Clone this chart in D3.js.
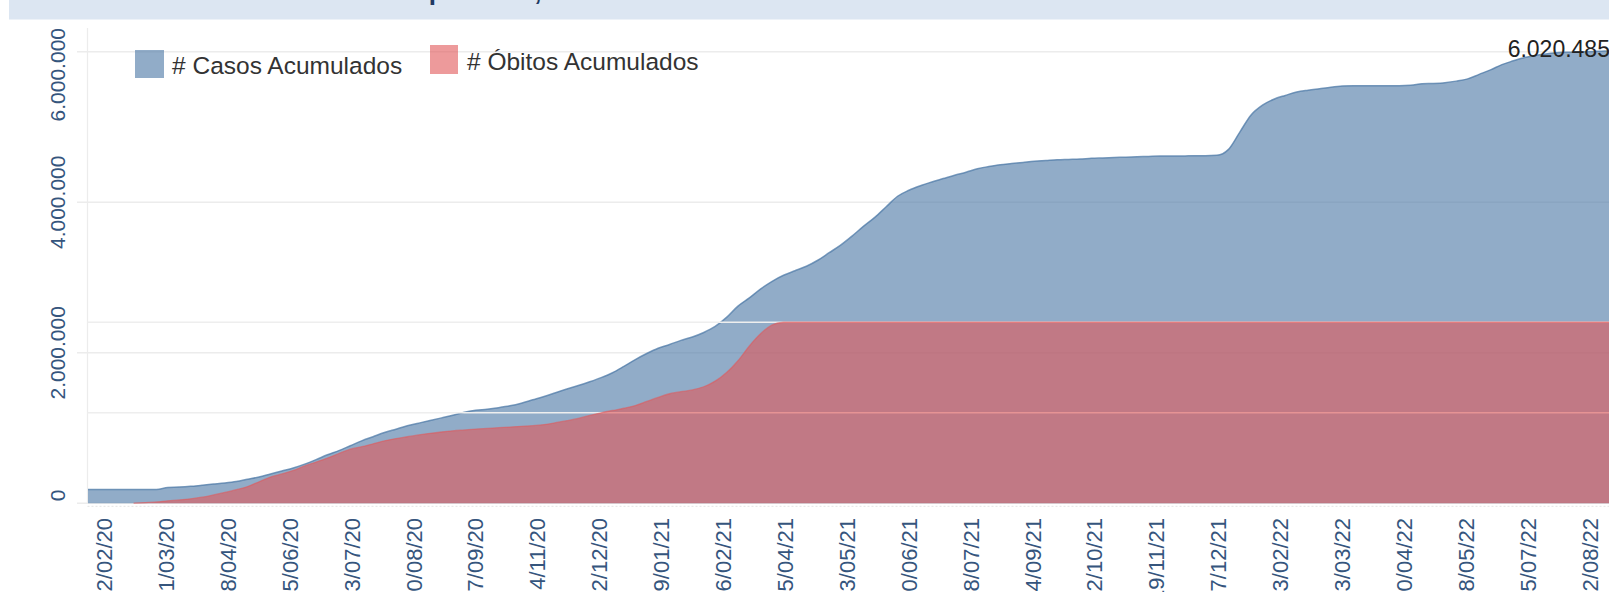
<!DOCTYPE html>
<html lang="pt-BR">
<head>
<meta charset="utf-8">
<title>Casos e Óbitos Acumulados</title>
<script src="https://cdn.jsdelivr.net/npm/d3@7"></script>
<style>
  html, body { margin: 0; padding: 0; background: #fff; overflow: hidden; }
  svg { display: block; font-family: "Liberation Sans", Arial, sans-serif; }
</style>
</head>
<body>
<svg id="chart" width="1609" height="596"></svg>
<script>
// ========================================
// Dados semanais (semana epidemiológica, início em domingo)
// ========================================
const inicioSemanas = "02/02/20";

const casos2020 = [
  184000, 184000, 184000, 184000, 184000, 184000, 184000, 210000, 215000, 225000,
  240000, 255000, 270000, 290000, 320000, 350000, 390000, 430000, 470000, 520000,
  580000, 645000, 700000, 765000, 830000, 885000, 940000, 985000, 1030000, 1065000,
  1100000, 1135000, 1170000, 1210000, 1235000, 1250000, 1270000, 1295000, 1330000, 1375000,
  1420000, 1470000, 1520000, 1565000, 1615000, 1670000, 1735000, 1820000
];
const casos2021 = [
  1910000, 1990000, 2060000, 2110000, 2165000, 2210000, 2270000, 2350000, 2470000, 2620000,
  2730000, 2850000, 2950000, 3030000, 3090000, 3150000, 3230000, 3330000, 3430000, 3550000,
  3680000, 3800000, 3940000, 4080000, 4160000, 4220000, 4270000, 4315000, 4360000, 4400000,
  4445000, 4475000, 4500000, 4515000, 4530000, 4545000, 4555000, 4565000, 4570000, 4575000,
  4585000, 4590000, 4595000, 4600000, 4605000, 4610000, 4615000, 4615000, 4615000, 4620000,
  4620000, 4625000
];
const casos2022 = [
  4700000, 4930000, 5160000, 5290000, 5370000, 5420000, 5465000, 5490000, 5510000, 5530000,
  5545000, 5550000, 5550000, 5550000, 5550000, 5550000, 5555000, 5575000, 5580000, 5590000,
  5610000, 5640000, 5700000, 5760000, 5830000, 5880000, 5925000, 5955000, 5975000, 5990000,
  5995000, 6000000, 6005000, 6010000, 6020485
];

const obitos2020 = [
  null, null, null, null, 100, 300, 600, 1100, 1500, 2000,
  2700, 3700, 4800, 6000, 7400, 9500, 11600, 13000, 14500, 16500,
  18200, 20000, 22000, 23900, 25000, 26300, 27600, 28600, 29400, 30200,
  30900, 31500, 32000, 32400, 32800, 33100, 33400, 33700, 34000, 34300,
  34800, 35600, 36500, 37500, 38800, 40000, 41000, 42000
];
const obitos2021 = [
  43200, 45000, 46800, 48400, 49300, 50100, 51500, 54000, 57800, 63000,
  69500, 75000, 78800, 80000, 80000, 80000, 80000, 80000, 80000, 80000,
  80000, 80000, 80000, 80000, 80000, 80000, 80000, 80000, 80000, 80000,
  80000, 80000, 80000, 80000, 80000, 80000, 80000, 80000, 80000, 80000,
  80000, 80000, 80000, 80000, 80000, 80000, 80000, 80000, 80000, 80000,
  80000, 80000
];
const obitos2022 = [
  80000, 80000, 80000, 80000, 80000, 80000, 80000, 80000, 80000, 80000,
  80000, 80000, 80000, 80000, 80000, 80000, 80000, 80000, 80000, 80000,
  80000, 80000, 80000, 80000, 80000, 80000, 80000, 80000, 80000, 80000,
  80000, 80000, 80000, 80000, 80000
];

const xTickLabels = [
  "12/02/20", "21/03/20", "28/04/20", "05/06/20", "13/07/20", "20/08/20", "27/09/20",
  "04/11/20", "12/12/20", "19/01/21", "26/02/21", "05/04/21", "13/05/21", "20/06/21",
  "28/07/21", "04/09/21", "12/10/21", "19/11/21", "27/12/21", "03/02/22", "13/03/22",
  "20/04/22", "28/05/22", "05/07/22", "12/08/22"
];
const yTicks = [0, 2000000, 4000000, 6000000];
const obitosGrid = [40000, 80000];
const legenda = ["# Casos Acumulados", "# Óbitos Acumulados"];
const titulo = "Casos e Óbitos Acumulados por Data, Estado de São Paulo";

// ========================================
// Gráfico
// ========================================
const ChartManager = (() => {
  const W = 1609, H = 596;
  const plot = { left: 87.5, top: 28, bottom: 503.3 };
  const azul = '#4e79a7', vermelho = '#e15759';
  const grade = '#ececec';

  const parse = d3.timeParse('%d/%m/%y');
  const fmtData = d3.timeFormat('%-d/%m/%y');
  const fmtNum = d3.formatLocale({ decimal: ',', thousands: '.', grouping: [3], currency: ['R$', ''] }).format(',');

  function init() {
    const casos = casos2020.concat(casos2021, casos2022);
    const obitos = obitos2020.concat(obitos2021, obitos2022);
    const inicio = parse(inicioSemanas);
    const dados = casos.map((c, i) => ({ date: d3.timeWeek.offset(inicio, i), casos: c, obitos: obitos[i] }));
    render(dados);
  }

  function render(dados) {
    const svg = d3.select('#chart');
    svg.selectAll('*').remove();

    const ticks = xTickLabels.map(parse);
    const x = d3.scaleTime()
      .domain([ticks[0], ticks[ticks.length - 1]])
      .range([104.3, 1589.9]);
    const yC = d3.scaleLinear().domain([0, 6316000]).range([plot.bottom, plot.top]);
    const yO = d3.scaleLinear().domain([0, 210000]).range([plot.bottom, plot.top]);
    const curva = d3.curveMonotoneX;

    // faixa do título (cortada no topo)
    svg.append('rect')
      .attr('x', 9).attr('y', 0).attr('width', W - 9).attr('height', 19.5)
      .attr('fill', '#dce6f2');
    svg.append('text')
      .attr('x', 70).attr('y', 0)
      .attr('font-size', 26).attr('font-weight', 'bold')
      .attr('fill', '#1f3a63')
      .text(titulo);

    // grade do eixo principal
    const g = svg.append('g');
    g.append('line')
      .attr('x1', plot.left).attr('x2', plot.left)
      .attr('y1', plot.top).attr('y2', plot.bottom)
      .attr('stroke', grade).attr('stroke-width', 1.2);
    g.selectAll('line.grid')
      .data(yTicks)
      .join('line')
      .attr('class', 'grid')
      .attr('x1', 77).attr('x2', W)
      .attr('y1', d => yC(d)).attr('y2', d => yC(d))
      .attr('stroke', grade).attr('stroke-width', 1.6);
    g.append('line')
      .attr('x1', plot.left).attr('x2', W)
      .attr('y1', plot.bottom + 3).attr('y2', plot.bottom + 3)
      .attr('stroke', '#e9e9e9').attr('stroke-width', 1.2)
      .attr('stroke-dasharray', '2,2');

    // área de casos
    const areaCasos = d3.area()
      .curve(curva)
      .x(d => x(d.date))
      .y0(yC(0))
      .y1(d => yC(d.casos));
    const linhaCasos = d3.line()
      .curve(curva)
      .x(d => x(d.date))
      .y(d => yC(d.casos));

    svg.append('path')
      .datum(dados)
      .attr('d', areaCasos)
      .attr('fill', azul).attr('fill-opacity', 0.62);
    svg.append('path')
      .datum(dados)
      .attr('d', linhaCasos)
      .attr('fill', 'none')
      .attr('stroke', azul).attr('stroke-opacity', 0.75).attr('stroke-width', 1.5);

    // grade do eixo secundário (óbitos), por cima da área azul
    svg.append('g')
      .selectAll('line')
      .data(obitosGrid)
      .join('line')
      .attr('x1', plot.left).attr('x2', W)
      .attr('y1', d => yO(d)).attr('y2', d => yO(d))
      .attr('stroke', '#eeeeee').attr('stroke-width', 1.6);

    // área de óbitos
    const comObito = d => d.obitos != null;
    const areaObitos = d3.area()
      .defined(comObito)
      .curve(curva)
      .x(d => x(d.date))
      .y0(yO(0))
      .y1(d => yO(d.obitos));
    const linhaObitos = d3.line()
      .defined(comObito)
      .curve(curva)
      .x(d => x(d.date))
      .y(d => yO(d.obitos));

    svg.append('path')
      .datum(dados)
      .attr('d', areaObitos)
      .attr('fill', vermelho).attr('fill-opacity', 0.6);
    svg.append('path')
      .datum(dados)
      .attr('d', linhaObitos)
      .attr('fill', 'none')
      .attr('stroke', vermelho).attr('stroke-opacity', 0.55).attr('stroke-width', 1.3);

    // eixo Y (rótulos girados, mantidos dentro da área)
    const yLab = svg.append('g')
      .attr('font-size', 21).attr('fill', '#35557d');
    yLab.selectAll('text')
      .data(yTicks)
      .join('text')
      .attr('text-anchor', 'middle')
      .text(d => fmtNum(d))
      .attr('transform', function (d) {
        const half = this.getComputedTextLength() / 2;
        const cy = Math.max(plot.top + half, Math.min(plot.bottom - 2 - half, yC(d)));
        return `translate(65,${cy}) rotate(-90)`;
      });

    // eixo X (datas giradas, cortadas embaixo)
    svg.append('clipPath').attr('id', 'clipX')
      .append('rect').attr('x', 0).attr('y', 505).attr('width', W).attr('height', 87);
    svg.append('g')
      .attr('clip-path', 'url(#clipX)')
      .attr('font-size', 22).attr('fill', '#35557d')
      .selectAll('text')
      .data(ticks)
      .join('text')
      .attr('text-anchor', 'end')
      .attr('dy', '0.35em')
      .attr('transform', d => `translate(${x(d)},518) rotate(-90)`)
      .text(d => fmtData(d));

    // legenda
    const leg = svg.append('g').attr('font-size', 24.5).attr('fill', '#333');
    leg.append('rect')
      .attr('x', 135).attr('y', 50).attr('width', 29).attr('height', 28)
      .attr('fill', azul).attr('fill-opacity', 0.62);
    leg.append('text').attr('x', 172).attr('y', 74).text(legenda[0]);
    leg.append('rect')
      .attr('x', 430).attr('y', 45).attr('width', 28).attr('height', 29)
      .attr('fill', vermelho).attr('fill-opacity', 0.6);
    leg.append('text').attr('x', 467).attr('y', 70).text(legenda[1]);

    // rótulo do último valor
    const ultimo = dados[dados.length - 1];
    svg.append('text')
      .attr('x', x(ultimo.date) - 6)
      .attr('y', yC(ultimo.casos) + 7)
      .attr('text-anchor', 'end')
      .attr('font-size', 23).attr('fill', '#222')
      .text(fmtNum(ultimo.casos));
  }

  return { init, render };
})();

ChartManager.init();
</script>
</body>
</html>
